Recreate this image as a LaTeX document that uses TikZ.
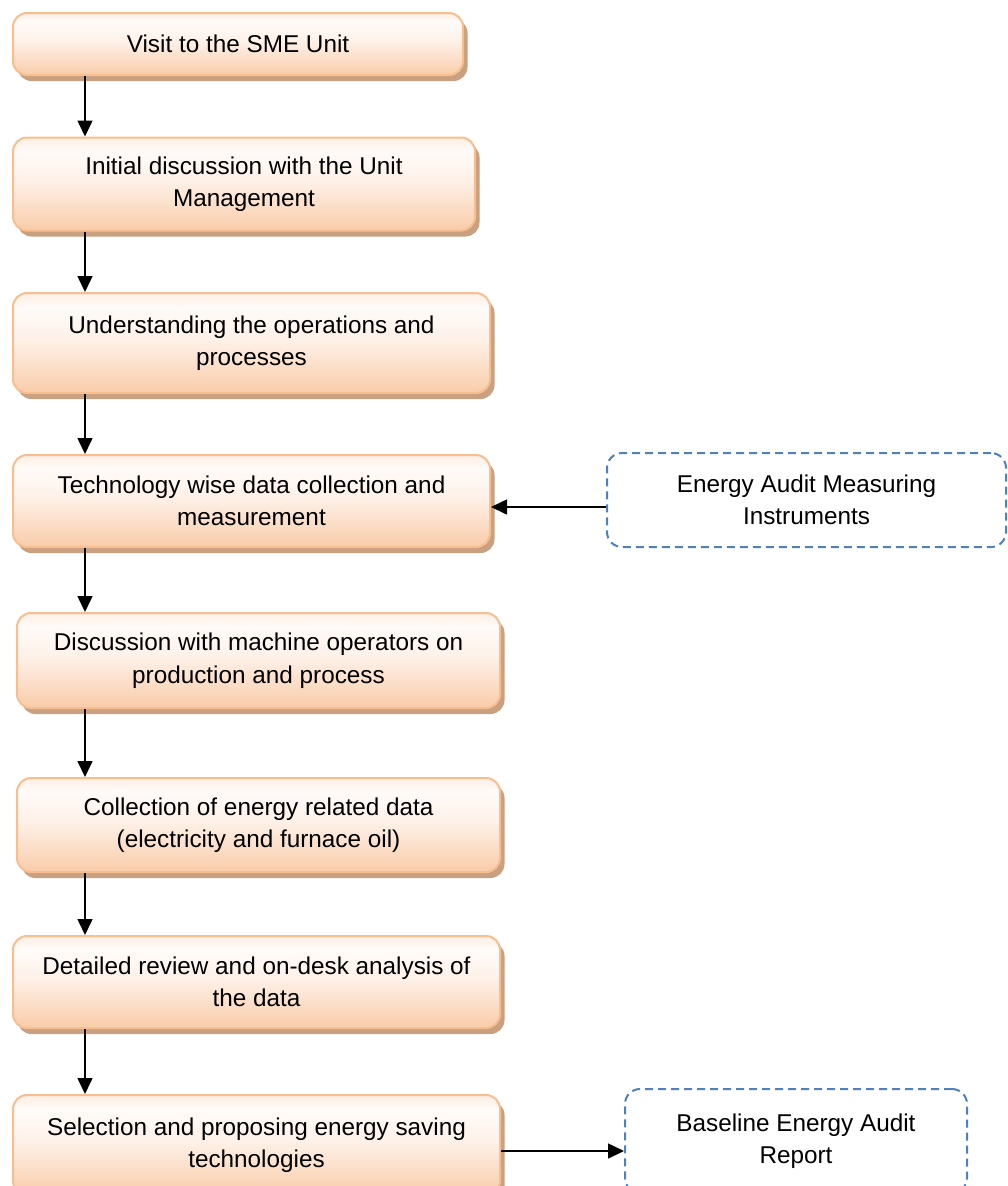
\documentclass[tikz,border=0pt]{standalone}
\usepackage{fontspec}
\setmainfont{Liberation Sans}
\usetikzlibrary{arrows.meta,shadows}
\definecolor{pkB}{HTML}{F9CCA9}
\definecolor{pkL}{HTML}{FEF1E8}
\definecolor{pkW}{HTML}{FFFBF9}
\definecolor{pkT}{HTML}{FDEEE3}
\definecolor{pkBorder}{HTML}{F9BE8E}
\definecolor{shadowcol}{HTML}{C9A080}
\definecolor{dashblue}{HTML}{4F81BD}
\pgfdeclareverticalshading{boxshade}{100bp}{color(0bp)=(pkB); color(25bp)=(pkB); color(52bp)=(pkL); color(68bp)=(pkW); color(75bp)=(pkT); color(100bp)=(pkT)}
\begin{document}
\begin{tikzpicture}[x=1pt,y=-1pt,
  stepbox/.style={draw=pkBorder, line width=2pt, rounded corners=14pt, shading=boxshade,
    drop shadow={shadow xshift=4.5pt, shadow yshift=-6pt, fill=shadowcol, opacity=1},
    align=center, inner sep=0pt, font=\fontsize{24.3}{32.5}\selectfont},
  dashbox/.style={draw=dashblue, line width=2pt, rounded corners=15pt, dash pattern=on 8pt off 5pt,
    fill=white, align=center, inner sep=0pt, font=\fontsize{24.3}{32.5}\selectfont},
  arr/.style={line width=1.6pt, -{Triangle[length=16pt,width=15pt]}}]
\clip (0,0) rectangle (1008,1186);
\fill[white] (0,0) rectangle (1008,1186);
\coordinate (ax) at (85,0);
\coordinate (ya) at (0,507);
\coordinate (yb) at (0,1151);
\node[stepbox, minimum width=450pt, minimum height=62pt] (b1) at (238,44) {Visit to the SME Unit};
\node[stepbox, minimum width=462pt, minimum height=93pt] (b2) at (244,184) {Initial discussion with the Unit\\Management};
\node[stepbox, minimum width=477pt, minimum height=100pt] (b3) at (251.5,343) {Understanding the operations and\\processes};
\node[stepbox, minimum width=477pt, minimum height=92pt] (b4) at (251.5,501) {Technology wise data collection and\\measurement};
\node[stepbox, minimum width=483pt, minimum height=95pt] (b5) at (258.5,660.5) {Discussion with machine operators on\\production and process};
\node[stepbox, minimum width=483pt, minimum height=94pt] (b6) at (258.5,825) {Collection of energy related data\\(electricity and furnace oil)};
\node[stepbox, minimum width=487pt, minimum height=92pt] (b7) at (256.5,982) {Detailed review and on-desk analysis of\\the data};
\node[stepbox, minimum width=487pt, minimum height=100pt] (b8) at (256.5,1145) {Selection and proposing energy saving\\technologies};
\node[dashbox, minimum width=399pt, minimum height=94pt] (d1) at (806.5,500) {Energy Audit Measuring\\Instruments};
\node[dashbox, minimum width=342pt, minimum height=104pt] (d2) at (796,1141) {Baseline Energy Audit\\Report};
\draw[arr] (b1.south -| ax) -- (b2.north -| ax);
\draw[arr] (b2.south -| ax) -- (b3.north -| ax);
\draw[arr] (b3.south -| ax) -- (b4.north -| ax);
\draw[arr] (b4.south -| ax) -- (b5.north -| ax);
\draw[arr] (b5.south -| ax) -- (b6.north -| ax);
\draw[arr] (b6.south -| ax) -- (b7.north -| ax);
\draw[arr] (b7.south -| ax) -- (b8.north -| ax);
\draw[arr] (d1.west |- ya) -- (b4.east |- ya);
\draw[arr] (b8.east |- yb) -- (d2.west |- yb);
\end{tikzpicture}
\end{document}
